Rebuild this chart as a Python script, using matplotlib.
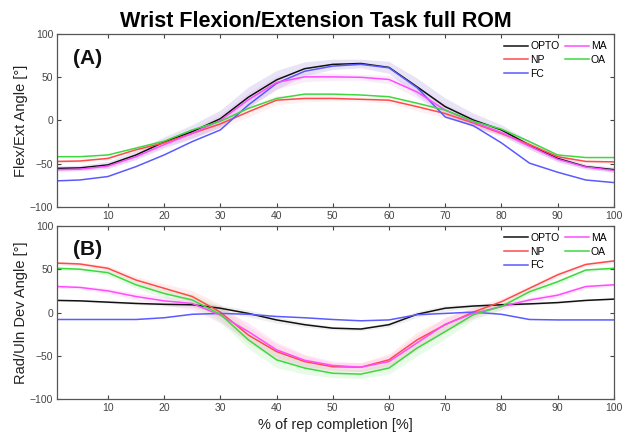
import numpy as np
import matplotlib
matplotlib.use("Agg")
import matplotlib.pyplot as plt

plt.rcParams['font.family'] = ['Liberation Sans', 'DejaVu Sans']

x = [1, 5, 10, 15, 20, 25, 30, 35, 40, 45, 50, 55, 60, 65, 70, 75, 80, 85, 90, 95, 100]

# Panel A: Flexion/Extension angle [deg]
a_opto = [-55.5, -55, -51.5, -40, -25, -13, 2, 27, 47, 60, 65, 66, 61.5, 39, 16, 0.5, -11, -28.5, -44, -53.5, -57]
a_np   = [-47.5, -47, -44, -34, -26, -15, -4, 10, 23.5, 25.5, 25.5, 24.5, 23.5, 16, 8, -3, -15, -28, -42, -47.5, -48]
a_fc   = [-70, -69, -65, -53.5, -40, -24.5, -11, 18, 43, 57, 63, 65, 61, 38, 4, -6, -26, -49.5, -60, -69, -72]
a_ma   = [-57, -56.5, -53, -42, -28, -15, 0, 24, 44, 50.5, 50.5, 50, 47.5, 33, 12, -2, -14, -30, -45, -54, -58]
a_oa   = [-42, -42, -40, -32, -24, -11, -1, 14, 25.5, 30.5, 30.5, 29.5, 27.5, 20, 12, -1, -10, -24.5, -40, -43, -43]
a_sd   = [3, 3, 4, 5, 6, 8, 10, 12, 11, 8, 6, 5, 7, 10, 10, 8, 6, 5, 4, 3, 3]

# Panel B: Radial/Ulnar deviation angle [deg]
b_opto = [14, 13.5, 12, 10.5, 9.5, 9, 5, -1, -8.5, -14, -18, -19, -14, -2, 5, 7.5, 9, 10, 11.5, 14, 15.5]
b_np   = [57, 56, 51, 37.5, 28, 18.5, 0.5, -26, -45, -56.5, -62.5, -63, -54.5, -31.5, -14, 0.5, 12.5, 28, 43.5, 55.5, 59.5]
b_fc   = [-8, -8, -8, -8, -6, -2, -1, -2, -4.5, -6, -8, -9.5, -8.5, -2.5, -1, 0.5, -2, -8, -8.5, -8.5, -8.5]
b_ma   = [30, 29, 25, 18.5, 13.5, 10.5, -3, -22, -43, -55, -61, -63, -56.5, -35, -13.5, -1, 7, 14.5, 20, 30, 32]
b_oa   = [51, 50, 46, 32, 22, 14.5, -2, -31.5, -54.5, -64, -70, -71, -64, -41, -22, -2.5, 7, 24, 35.5, 49, 51]
b_sd   = [2, 2, 3, 4, 5, 7, 9, 10, 9, 7, 5, 5, 7, 9, 8, 6, 4, 3, 3, 2, 2]

labels = ["OPTO", "NP", "FC", "MA", "OA"]
colors = {"OPTO": "#111111", "NP": "#ff4a4a", "FC": "#5a5aff", "MA": "#ff4cff", "OA": "#3ed83e"}
xticks = [10, 20, 30, 40, 50, 60, 70, 80, 90, 100]
yticks = [-100, -50, 0, 50, 100]

fig = plt.figure(figsize=(6.31, 4.38), dpi=100)
axA = fig.add_axes([0.0908, 0.528, 0.882, 0.394])
axB = fig.add_axes([0.0908, 0.0884, 0.882, 0.396])

xa = np.array(x)

def style(ax, ylabel, tag):
    ax.set_xlim(1, 100)
    ax.set_ylim(-100, 100)
    ax.set_xticks(xticks)
    ax.set_yticks(yticks)
    ax.tick_params(direction='in', top=True, right=True, length=3, width=0.8,
                   labelsize=7.5, colors='#444444', pad=3)
    for s in ax.spines.values():
        s.set_color('#555555')
        s.set_linewidth(0.9)
    ax.set_ylabel(ylabel, fontsize=10.5, color='#222222', labelpad=1)
    ax.text(0.028, 0.83, tag, transform=ax.transAxes, fontsize=15,
            fontweight='bold', color='#111111')
    ax.legend(ncol=2, loc='upper right', frameon=False, fontsize=7.5,
              handlelength=2.3, columnspacing=0.5, handletextpad=0.2,
              labelspacing=0.35, borderaxespad=0.3)

# Panel A
seriesA = {"OPTO": a_opto, "NP": a_np, "FC": a_fc, "MA": a_ma, "OA": a_oa}
sdA = np.array(a_sd)
axA.fill_between(xa, np.array(a_opto) - sdA, np.array(a_opto) + sdA,
                 color='#8a6acc', alpha=0.18, lw=0)
axA.fill_between(xa, np.array(a_ma) - sdA * 0.7, np.array(a_ma) + sdA * 0.7,
                 color='#dd88ee', alpha=0.15, lw=0)
axA.fill_between(xa, np.array(a_np) - sdA * 0.5, np.array(a_np) + sdA * 0.5,
                 color='#ff9090', alpha=0.12, lw=0)
for k in labels:
    axA.plot(xa, seriesA[k], color=colors[k], lw=1.1, label=k)
style(axA, "Flex/Ext Angle [°]", "(A)")
fig.suptitle("Wrist Flexion/Extension Task full ROM", fontsize=15.5,
             fontweight='bold', x=0.5, y=0.975, va='top')

# Panel B
seriesB = {"OPTO": b_opto, "NP": b_np, "FC": b_fc, "MA": b_ma, "OA": b_oa}
sdB = np.array(b_sd)
axB.fill_between(xa, np.array(b_np) - sdB, np.array(b_np) + sdB,
                 color='#ffa0a0', alpha=0.2, lw=0)
axB.fill_between(xa, np.array(b_ma) - sdB, np.array(b_ma) + sdB,
                 color='#ff90ee', alpha=0.18, lw=0)
axB.fill_between(xa, np.array(b_oa) - sdB, np.array(b_oa) + sdB,
                 color='#90ee90', alpha=0.2, lw=0)
axB.fill_between(xa, np.array(b_opto) - sdB * 0.4, np.array(b_opto) + sdB * 0.4,
                 color='#999999', alpha=0.15, lw=0)
for k in labels:
    axB.plot(xa, seriesB[k], color=colors[k], lw=1.1, label=k)
style(axB, "Rad/Uln Dev Angle [°]", "(B)")
axB.set_xlabel("% of rep completion [%]", fontsize=10.5, color='#222222', labelpad=3)

fig.savefig("out.png", dpi=100)
